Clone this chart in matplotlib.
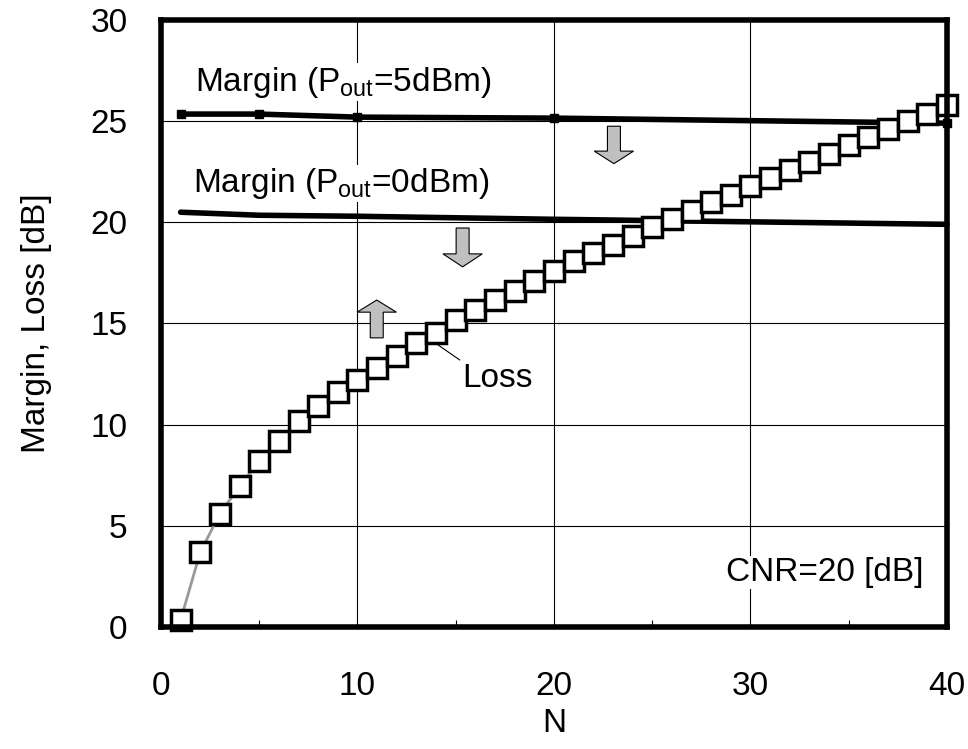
import matplotlib
matplotlib.use('Agg')
import matplotlib.pyplot as plt
from matplotlib.patches import FancyArrow
from matplotlib.ticker import MultipleLocator

plt.rcParams['font.family'] = ['Liberation Sans', 'DejaVu Sans']
plt.rcParams['mathtext.fontset'] = 'custom'
plt.rcParams['mathtext.rm'] = 'Liberation Sans'

# data
N_loss = list(range(1, 41))
loss = [0.35, 3.7, 5.6, 6.95, 8.2, 9.2, 10.2, 10.9, 11.6, 12.2,
        12.8, 13.4, 14.05, 14.55, 15.15, 15.65, 16.15, 16.6, 17.1, 17.6,
        18.1, 18.5, 18.9, 19.3, 19.75, 20.15, 20.55, 21.0, 21.35, 21.8,
        22.2, 22.6, 23.0, 23.4, 23.8, 24.2, 24.6, 25.0, 25.35, 25.8]

N_margin = [1, 5, 10, 20, 40]
margin_5dbm = [25.35, 25.35, 25.2, 25.15, 24.9]
margin_0dbm = [20.5, 20.35, 20.3, 20.15, 19.9]

fig = plt.figure(figsize=(9.68, 7.49), dpi=100)
ax = fig.add_axes([0.1663, 0.1629, 0.812, 0.8104])

ax.set_xlim(0, 40)
ax.set_ylim(0, 30)

# grid
ax.xaxis.set_major_locator(MultipleLocator(10))
ax.xaxis.set_minor_locator(MultipleLocator(5))
ax.yaxis.set_major_locator(MultipleLocator(5))
ax.grid(True, which='major', color='black', lw=0.8, zorder=0)
ax.set_axisbelow(True)
ax.tick_params(axis='both', which='major', length=0, labelsize=24)
ax.tick_params(axis='x', which='major', pad=32)
ax.tick_params(axis='y', which='major', pad=24)
ax.tick_params(axis='x', which='minor', direction='in', length=5, width=0.8, color='black')

for s in ax.spines.values():
    s.set_linewidth(4)
    s.set_zorder(5)

# margin lines
ax.plot(N_margin, margin_5dbm, color='black', lw=4, marker='s', ms=6,
        solid_capstyle='round', zorder=3, clip_on=False)
ax.plot(N_margin, margin_0dbm, color='black', lw=4,
        solid_capstyle='round', zorder=3, clip_on=False)

# loss
ax.plot(N_loss, loss, color='#999999', lw=2, marker='s', ms=14,
        mfc='white', mec='black', mew=2.5, zorder=4, clip_on=False)

# arrows
arrow_kw = dict(length_includes_head=True, fc='#c0c0c0', ec='black', lw=0.8, zorder=4)
ax.add_patch(FancyArrow(23.05, 24.75, 0, -1.85, width=0.66, head_width=2.0,
                        head_length=0.62, **arrow_kw))
ax.add_patch(FancyArrow(15.35, 19.72, 0, -1.92, width=0.66, head_width=2.0,
                        head_length=0.64, **arrow_kw))
ax.add_patch(FancyArrow(10.98, 14.29, 0, 1.87, width=0.66, head_width=2.0,
                        head_length=0.6, **arrow_kw))

# labels
box = dict(fc='white', ec='none', pad=1)
ax.text(1.73, 26.5, r'Margin (P$_{\mathregular{out}}$=5dBm)', fontsize=24,
        va='baseline', ha='left', bbox=box, zorder=2)
ax.text(1.63, 21.5, r'Margin (P$_{\mathregular{out}}$=0dBm)', fontsize=24,
        va='baseline', ha='left', bbox=box, zorder=2)
ax.text(15.35, 12.3, 'Loss', fontsize=24, va='center', ha='left', zorder=2)
ax.plot([14.1, 15.2], [13.94, 13.2], color='black', lw=0.8, zorder=2)
ax.text(38.78, 2.27, 'CNR=20 [dB]', fontsize=24, va='baseline', ha='right',
        bbox=box, zorder=2)

ax.set_xlabel('N', fontsize=24, labelpad=4)
ax.set_ylabel('Margin, Loss [dB]', fontsize=24, labelpad=28)

fig.savefig('out.png', dpi=100)
